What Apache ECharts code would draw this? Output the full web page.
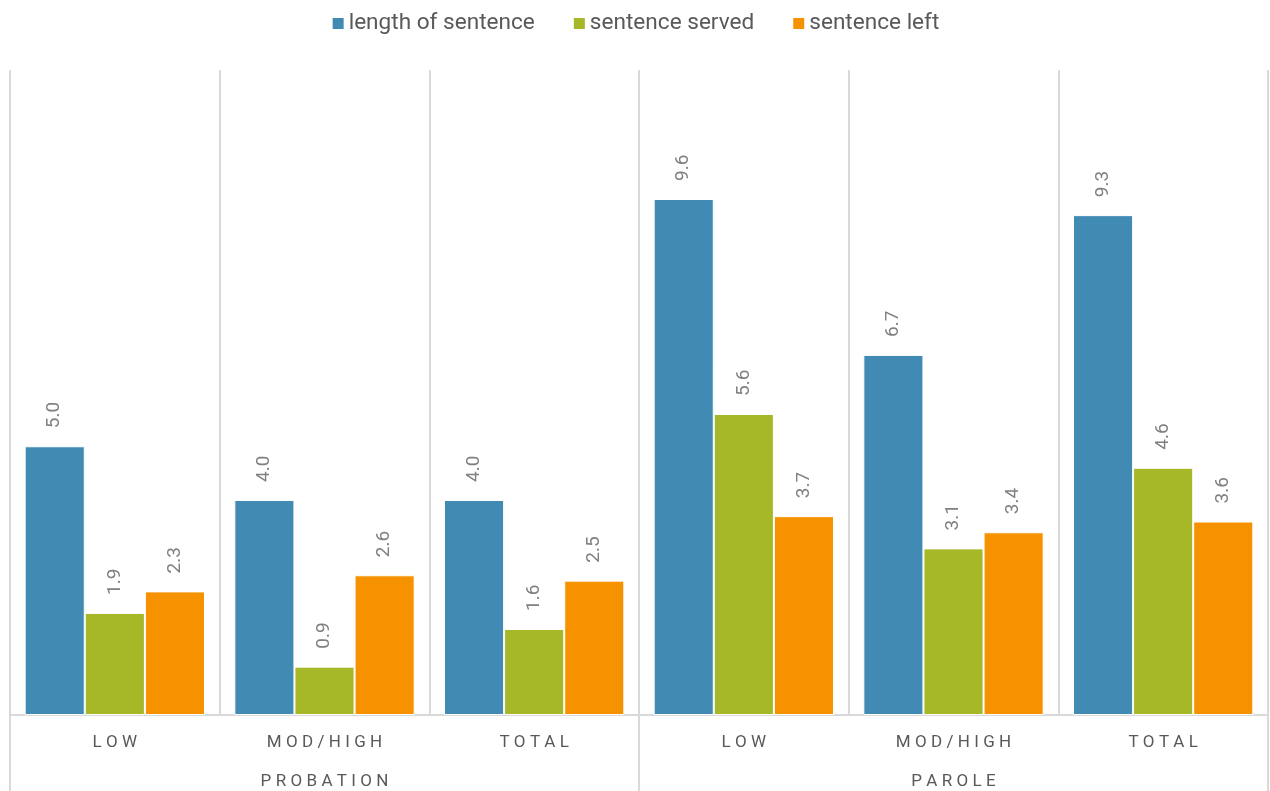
<!DOCTYPE html>
<html>
<head>
<meta charset="utf-8">
<script src="https://cdn.jsdelivr.net/npm/echarts@6/dist/echarts.min.js"></script>
<style>
  html, body { margin: 0; padding: 0; background: #ffffff; }
  #chart { width: 1270px; height: 791px; }
</style>
</head>
<body>
<div id="chart"></div>
<script>
// Supervision level (inner axis) and supervision type (outer axis)
const categories = ['LOW', 'MOD/HIGH', 'TOTAL', 'LOW', 'MOD/HIGH', 'TOTAL'];
const groups = ['PROBATION', 'PAROLE'];

// Years, per category
const lengthOfSentence = [5.0, 4.0, 4.0, 9.6, 6.7, 9.3];
const sentenceServed = [1.9, 0.9, 1.6, 5.6, 3.1, 4.6];
const sentenceLeft = [2.3, 2.6, 2.5, 3.7, 3.4, 3.6];

const seriesNames = ['length of sentence', 'sentence served', 'sentence left'];
const seriesColors = ['#418AB3', '#A6B727', '#F69200'];

const FONT = 'Roboto, "Liberation Sans", sans-serif';
const GRID_LINE = '#d9d9d9';

// Spread capital letters apart for the axis captions
const spaced = s => s.split('').join('\u2005');

const barLabel = {
  show: true,
  position: 'top',
  rotate: 90,
  align: 'left',
  verticalAlign: 'middle',
  distance: 18,
  color: '#808080',
  fontSize: 19,
  fontFamily: FONT,
  formatter: p => p.value.toFixed(1)
};

function barSeries(name, values, color) {
  return {
    name: name,
    type: 'bar',
    xAxisIndex: 0,
    yAxisIndex: 0,
    data: values,
    barGap: '0%',
    barCategoryGap: '14%',
    itemStyle: { color: color, borderColor: '#ffffff', borderWidth: 1 },
    label: barLabel
  };
}

const chart = echarts.init(document.getElementById('chart'), null, { renderer: 'canvas' });

chart.setOption({
  animation: false,
  backgroundColor: '#ffffff',
  color: seriesColors,
  legend: {
    top: 7,
    left: 'center',
    itemWidth: 13,
    itemHeight: 13,
    itemGap: 37,
    icon: 'rect',
    textStyle: { color: '#595959', fontSize: 22.6, fontFamily: FONT, padding: [0, 0, 0, -1] },
    data: seriesNames
  },
  grid: { left: 10, right: 2, top: 70, bottom: 76, containLabel: false },
  xAxis: [
    {
      type: 'category',
      data: categories,
      position: 'bottom',
      axisLine: { show: true, lineStyle: { color: GRID_LINE, width: 2 } },
      axisTick: { show: false },
      splitLine: { show: true, lineStyle: { color: GRID_LINE, width: 2 } },
      axisLabel: {
        color: '#595959',
        fontSize: 17,
        fontFamily: FONT,
        margin: 19,
        formatter: spaced
      }
    },
    {
      type: 'category',
      data: groups,
      position: 'bottom',
      axisLine: { show: false },
      axisTick: { show: true, length: 78, lineStyle: { color: GRID_LINE, width: 2 } },
      splitLine: { show: false },
      axisLabel: {
        color: '#595959',
        fontSize: 17,
        fontFamily: FONT,
        margin: 58,
        formatter: spaced
      }
    }
  ],
  yAxis: {
    type: 'value',
    min: 0,
    max: 12,
    show: false,
    splitLine: { show: false }
  },
  series: [
    barSeries(seriesNames[0], lengthOfSentence, seriesColors[0]),
    barSeries(seriesNames[1], sentenceServed, seriesColors[1]),
    barSeries(seriesNames[2], sentenceLeft, seriesColors[2])
  ]
});
</script>
</body>
</html>
